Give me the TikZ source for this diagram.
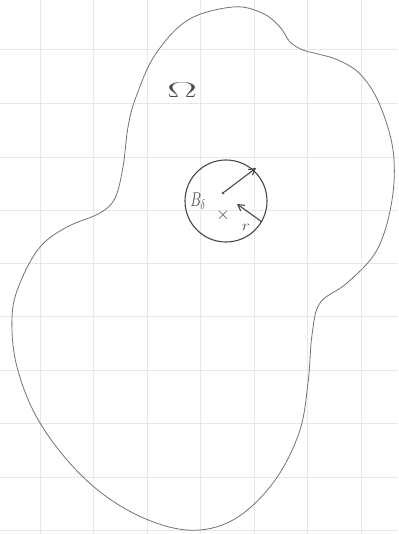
\documentclass[tikz,border=0pt]{standalone}
\usetikzlibrary{arrows.meta}
\begin{document}
\begin{tikzpicture}[x=1pt,y=-1pt,
  gridline/.style={draw=black!9,line width=0.8pt},
  pen/.style={draw=black!55,line width=0.8pt},
  ink/.style={draw=black!72,line width=1.1pt},
  arr/.style={ink,-{Straight Barb[length=6pt,width=7pt]}},
  lbl/.style={text=black!70,inner sep=0pt}]
\useasboundingbox (0,0) rectangle (398,534);
\fill[white] (0,0) rectangle (398,534);
\foreach \gx in {40,93,147,200,254,307,361} \draw[gridline] (\gx,0) -- (\gx,534);
\foreach \gy in {49,103,157,210,263,316,370,423,477,530} \draw[gridline] (0,\gy) -- (398,\gy);
% outer domain
\draw[pen] plot[smooth cycle,tension=0.6] coordinates {
 (233,7) (262,13) (280,27) (290,42) (303,50) (318,54) (338,60) (360,74)
 (379,103) (393,150) (392,200)
 (377,250) (347,283) (320,303) (312,335) (308,383) (299,433) (273,483)
 (233,520) (187,530) (133,513) (83,477) (40,423) (17,367) (12,317) (20,283)
 (40,247) (67,227) (100,213) (115,198) (123,167) (128,127) (136,97)
 (155,55) (188,20)};
% inner ball
\node[ink,circle,minimum size=82pt,inner sep=0pt] (ball) at (226,201) {};
\node[circle,fill=black!70,inner sep=0pt,minimum size=3pt] (ctr) at (223,193) {};
\coordinate (rim1) at (256,168);
\coordinate (rim2) at (262,222);
\coordinate (tip2) at (237,204);
\draw[arr] (ctr) -- (rim1);
\draw[arr] (rim2) -- (tip2);
\node[lbl,font=\LARGE] (xmark) at (223,215) {$\times$};
\node[lbl,font=\Large,xscale=1.2] (rlab) at (246,227) {$r$};
\node[lbl,font=\LARGE,xscale=0.8,yscale=1.15] (blab) at (198,201) {$B_{\scriptstyle\delta}$};
\node[lbl,font=\LARGE,xscale=2.6,yscale=1.25] (omega) at (182,90) {$\Omega$};
\end{tikzpicture}
\end{document}
